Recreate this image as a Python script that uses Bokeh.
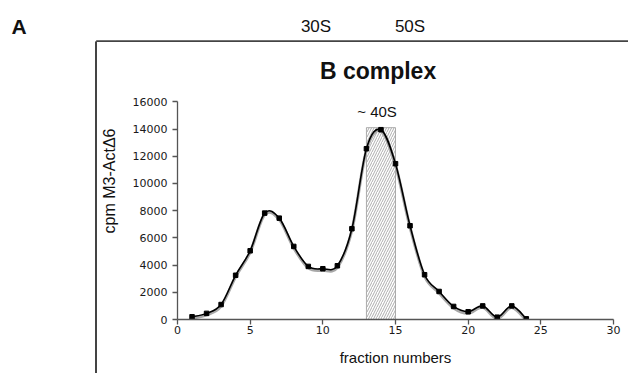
from bokeh.plotting import figure
from bokeh.models import Label, FixedTicker, Range1d, Div
from bokeh.layouts import column, row
from bokeh.embed import file_html
from bokeh.resources import INLINE

# ---- data ----
fractions = [1, 2, 3, 4, 5, 6, 7, 8, 9, 10, 11, 12, 13, 14, 15, 16, 17, 18, 19, 20, 21, 22, 23, 24]
cpm = [200, 450, 1100, 3250, 5050, 7820, 7450, 5370, 3900, 3730, 3950, 6670,
       12550, 13950, 11450, 6890, 3290, 2060, 960, 570, 1000, 170, 1000, 50]
box_fractions = [13, 15]
box_top = 14100
x_ticks = [0, 5, 10, 15, 20, 25, 30]
y_ticks = [0, 2000, 4000, 6000, 8000, 10000, 12000, 14000, 16000]
top_labels = ["30S", "50S"]

FONT = "Liberation Sans"
INK = "#111111"
FRAME = "#444444"

W, H = 628, 373
HEAD_H = 42          # header strip height (page px)
STRIP_W = 97         # left strip width (page px)
LIFT = 6             # text baseline correction (px)

# ---- page pixel -> data helpers for the main chart ----
X0_PX, PX_PER_X = 176.0, 437.0 / 30      # x = 0 at page x 176
Y0_PX, PX_PER_Y = 319.0, 217.7 / 16000   # y = 0 at page y 319


def xd(px):
    return (px - X0_PX) / PX_PER_X


def yd(py):
    return (Y0_PX - py) / PX_PER_Y


def bare(fig):
    fig.outline_line_color = None
    fig.grid.grid_line_color = None
    fig.axis.visible = False
    fig.background_fill_color = "white"
    fig.border_fill_color = "white"
    fig.min_border = 0
    return fig


# ---- header strip: panel letter, gradient markers, top edge of the panel frame ----
head = bare(figure(width=W, height=HEAD_H, output_backend="svg", toolbar_location=None,
                   x_range=Range1d(0, W), y_range=Range1d(HEAD_H, 0)))
head.segment(x0=[95.7, 95.7], y0=[40.7, 40.7], x1=[W + 5, 95.7], y1=[40.7, HEAD_H + 2],
             line_color=FRAME, line_width=2)
head.add_layout(Label(x=11, y=31 - LIFT + 1, text="A", text_font=FONT, text_font_size="21px",
                      text_font_style="bold", text_align="left", text_baseline="alphabetic",
                      text_color=INK))
for lab, cx in zip(top_labels, [315.5, 409.5]):
    head.add_layout(Label(x=cx, y=32 - LIFT, text=lab, text_font=FONT, text_font_size="17px",
                          text_align="center", text_baseline="alphabetic", text_color=INK))

# ---- left strip: left edge of the panel frame (plain decoration) ----
body_h = H - HEAD_H
strip = Div(text="", width=STRIP_W, height=body_h, margin=0,
            styles={"background": "linear-gradient(to right, white 0px, white 94.7px, "
                                  "#444444 94.7px, #444444 96.7px, white 96.7px)"})

# ---- main chart ----
main_w = W - STRIP_W
p = figure(width=main_w, height=body_h, output_backend="svg", toolbar_location=None,
           x_range=Range1d(0, 30), y_range=Range1d(0, yd(HEAD_H)),
           min_border_left=int(X0_PX - STRIP_W), min_border_right=15,
           min_border_top=0, min_border_bottom=int(H - Y0_PX))
p.outline_line_color = None
p.grid.grid_line_color = None
p.background_fill_color = "white"
p.border_fill_color = "white"

for ax in (p.xaxis[0], p.yaxis[0]):
    ax.axis_line_color = "#555555"
    ax.axis_line_width = 1.3
    ax.major_tick_line_color = "#555555"
    ax.major_tick_line_width = 1.3
    ax.major_tick_out = 5
    ax.major_tick_in = 0
    ax.minor_tick_line_color = None
    ax.major_label_text_font = "DejaVu Sans"
    ax.major_label_text_font_size = "11px"
    ax.major_label_text_color = "#1a1a1a"
    ax.axis_label_text_font = FONT
    ax.axis_label_text_font_size = "15px"
    ax.axis_label_text_font_style = "normal"
    ax.axis_label_text_color = INK

p.xaxis.ticker = FixedTicker(ticks=x_ticks)
p.yaxis.ticker = FixedTicker(ticks=y_ticks)
p.yaxis.bounds = (y_ticks[0], y_ticks[-1])
p.xaxis.major_label_standoff = 1
p.yaxis.major_label_standoff = 5
p.xaxis.axis_label = "fraction numbers"
p.yaxis.axis_label = "cpm M3-ActΔ6"
p.xaxis.axis_label_standoff = 12
p.yaxis.axis_label_standoff = 12
p.yaxis.axis_label_text_font_size = "16px"

# hatched ~40S region
p.quad(left=[box_fractions[0]], right=[box_fractions[1]], bottom=[0], top=[box_top],
       fill_color=None, line_color="#9a9a9a", line_width=0.8,
       hatch_pattern="/", hatch_color="#8a8a8a", hatch_scale=5, hatch_weight=0.7)

# smoothed curve (Catmull-Rom style bezier through the points, like Excel)
n = len(fractions)
x0s, y0s, x1s, y1s, cx0, cy0, cx1, cy1 = [], [], [], [], [], [], [], []
for i in range(n - 1):
    xa, ya = fractions[i], cpm[i]
    xb, yb = fractions[i + 1], cpm[i + 1]
    xp, yp = (fractions[i - 1], cpm[i - 1]) if i > 0 else (xa, ya)
    xn, yn = (fractions[i + 2], cpm[i + 2]) if i + 2 < n else (xb, yb)
    x0s.append(xa); y0s.append(ya); x1s.append(xb); y1s.append(yb)
    cx0.append(xa + (xb - xp) / 6.0); cy0.append(ya + (yb - yp) / 6.0)
    cx1.append(xb - (xn - xa) / 6.0); cy1.append(yb - (yn - ya) / 6.0)

shade = 110
p.bezier(x0=x0s, y0=[v - shade for v in y0s], x1=x1s, y1=[v - shade for v in y1s],
         cx0=cx0, cy0=[v - shade for v in cy0], cx1=cx1, cy1=[v - shade for v in cy1],
         line_color="#a8a8a8", line_width=3)
p.bezier(x0=x0s, y0=y0s, x1=x1s, y1=y1s, cx0=cx0, cy0=cy0, cx1=cx1, cy1=cy1,
         line_color="black", line_width=1.6)
p.scatter(fractions, cpm, marker="square", size=4.5, color="black")

p.add_layout(Label(x=xd(377), y=yd(76 - LIFT), text="B complex", text_font=FONT,
                   text_font_size="23px", text_font_style="bold", text_align="center",
                   text_baseline="alphabetic", text_color=INK))
p.add_layout(Label(x=xd(376), y=yd(117 - LIFT), text="~ 40S", text_font=FONT,
                   text_font_size="15px", text_align="center", text_baseline="alphabetic",
                   text_color=INK))

layout = column(head, row(strip, p))
open("out.html", "w").write(file_html(layout, INLINE))
